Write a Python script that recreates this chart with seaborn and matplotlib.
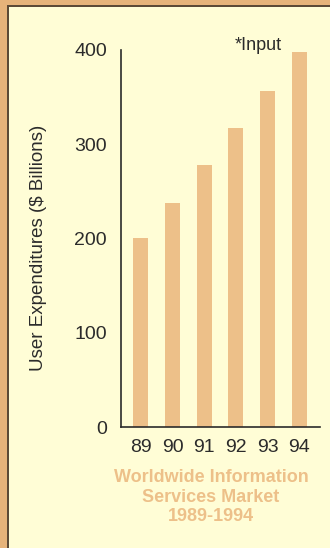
import matplotlib
matplotlib.use("Agg")
import matplotlib.pyplot as plt
from matplotlib.patches import Rectangle
import seaborn as sns
import pandas as pd

# Data
years = ["89", "90", "91", "92", "93", "94"]
spending = [200, 238, 278, 317, 357, 398]
y_ticks = [0, 100, 200, 300, 400]

y_label = "User Expenditures ($ Billions)"
title_lines = ["Worldwide Information", "Services Market", "1989-1994"]
note = "*Input"

# Colours
cream = "#FFFDD6"
tan = "#EDC089"
edge_tan = "#E6B37A"
ink = "#2B2B2B"

sns.set_theme(style="white")
plt.rcParams["font.family"] = ["Liberation Sans", "DejaVu Sans"]

W, H = 330, 548
fig = plt.figure(figsize=(W / 100, H / 100), dpi=100, facecolor=cream)

# Card border: tan strips on the left and top edges with a dark rule
fig.add_artist(Rectangle((0, 0), 7 / W, 1, transform=fig.transFigure,
                         facecolor=edge_tan, edgecolor="none", zorder=0))
fig.add_artist(Rectangle((0, 1 - 5 / H), 1, 5 / H, transform=fig.transFigure,
                         facecolor=edge_tan, edgecolor="none", zorder=0))
fig.add_artist(Rectangle((7 / W, 0), 1.5 / W, 1 - 5 / H, transform=fig.transFigure,
                         facecolor="#5C4A36", edgecolor="none", zorder=1))
fig.add_artist(Rectangle((7 / W, 1 - 6.5 / H), 1 - 7 / W, 1.5 / H,
                         transform=fig.transFigure,
                         facecolor="#5C4A36", edgecolor="none", zorder=1))

ax = fig.add_axes([121 / W, 1 - 427 / H, 199 / W, 377 / H])
ax.set_facecolor(cream)

df = pd.DataFrame({"year": years, "spending": spending})
sns.barplot(data=df, x="year", y="spending", color=tan, saturation=1,
            width=0.47, linewidth=0, edgecolor="none", ax=ax)

ax.set_xlim(-0.63, 5.66)
ax.set_ylim(0, 400)
ax.set_yticks(y_ticks)
ax.set_yticklabels([str(t) for t in y_ticks])
ax.tick_params(axis="both", length=0, labelsize=14, labelcolor=ink)
ax.tick_params(axis="y", pad=10)
ax.tick_params(axis="x", pad=9)

sns.despine(ax=ax)
for side in ("left", "bottom"):
    ax.spines[side].set_color(ink)
    ax.spines[side].set_linewidth(1.2)

ax.set_xlabel("")
ax.set_ylabel(y_label, fontsize=13.5, color=ink)
ax.yaxis.set_label_coords(-0.37, 0.475)

ax.text(0.688, 1.013, note, transform=ax.transAxes, ha="center", va="center",
        fontsize=13, color=ink)

fig.text(211 / W, 1 - 497 / H, "\n".join(title_lines), ha="center", va="center",
         fontsize=13, fontweight="bold", color=tan, linespacing=1.22)

fig.savefig("out.png", dpi=100, facecolor=cream)
